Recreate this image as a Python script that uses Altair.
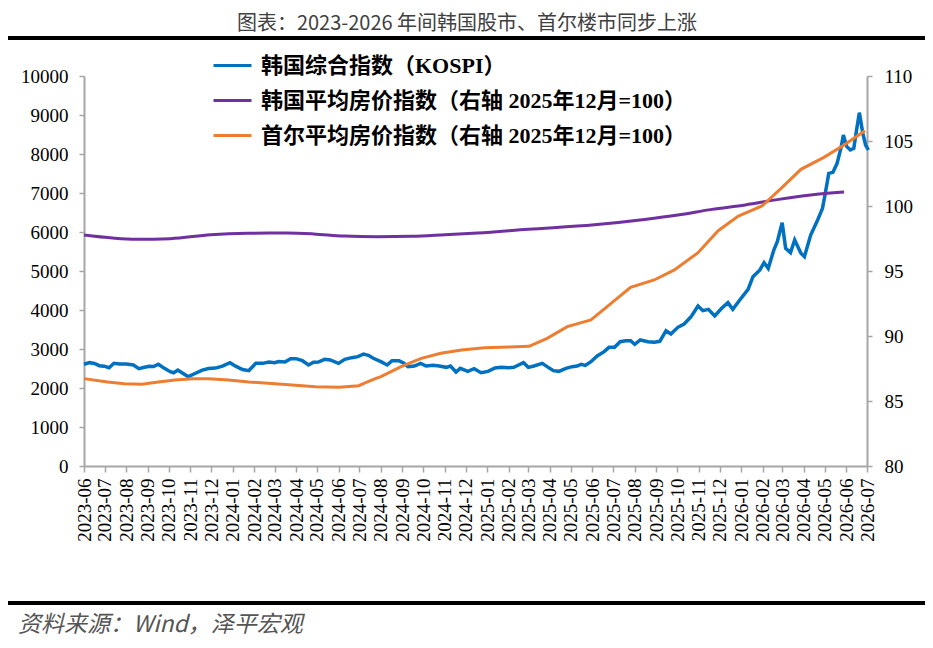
import altair as alt
import pandas as pd

TITLE = "图表：2023-2026 年间韩国股市、首尔楼市同步上涨"
SOURCE = "资料来源：Wind，泽平宏观"
SERIES = ["韩国综合指数（KOSPI）",
          "韩国平均房价指数（右轴 2025年12月=100）",
          "首尔平均房价指数（右轴 2025年12月=100）"]
COLORS = ["#0070C0", "#7030A0", "#ED7D31"]

# tick labels on the x axis, one per month
MONTHS = [f"{y}-{m:02d}" for y in (2023, 2024, 2025, 2026) for m in range(1, 13)]
MONTHS = MONTHS[MONTHS.index("2023-06"):MONTHS.index("2026-07") + 1]

kospi_dates = [
    "2023-06-01", "2023-06-09", "2023-06-16", "2023-06-23", "2023-06-30", "2023-07-07", "2023-07-14", "2023-07-22",
    "2023-08-01", "2023-08-11", "2023-08-19", "2023-08-27", "2023-09-03", "2023-09-09", "2023-09-16", "2023-09-24",
    "2023-10-03", "2023-10-08", "2023-10-14", "2023-10-21", "2023-10-29", "2023-11-06", "2023-11-18", "2023-11-27",
    "2023-12-07", "2023-12-17", "2023-12-28", "2024-01-05", "2024-01-15", "2024-01-24", "2024-02-03", "2024-02-13",
    "2024-02-22", "2024-03-01", "2024-03-07", "2024-03-16", "2024-03-24", "2024-04-01", "2024-04-10", "2024-04-19",
    "2024-04-26", "2024-05-03", "2024-05-12", "2024-05-20", "2024-06-01", "2024-06-10", "2024-06-20", "2024-06-29",
    "2024-07-07", "2024-07-14", "2024-07-21", "2024-08-01", "2024-08-10", "2024-08-17", "2024-08-27", "2024-09-03",
    "2024-09-09", "2024-09-18", "2024-09-27", "2024-10-05", "2024-10-15", "2024-10-24", "2024-11-03", "2024-11-09",
    "2024-11-17", "2024-11-23", "2024-12-04", "2024-12-13", "2024-12-23", "2025-01-02", "2025-01-12", "2025-01-21",
    "2025-02-01", "2025-02-08", "2025-02-15", "2025-02-22", "2025-03-01", "2025-03-09", "2025-03-21", "2025-03-28",
    "2025-04-06", "2025-04-14", "2025-04-24", "2025-05-03", "2025-05-10", "2025-05-16", "2025-05-22", "2025-05-30",
    "2025-06-08", "2025-06-18", "2025-06-25", "2025-07-03", "2025-07-11", "2025-07-19", "2025-07-26", "2025-08-01",
    "2025-08-09", "2025-08-20", "2025-08-29", "2025-09-06", "2025-09-15", "2025-09-22", "2025-10-02", "2025-10-11",
    "2025-10-21", "2025-10-31", "2025-11-07", "2025-11-15", "2025-11-24", "2025-12-04", "2025-12-13", "2025-12-20",
    "2025-12-30", "2026-01-11", "2026-01-18", "2026-01-28", "2026-02-03", "2026-02-09", "2026-02-17", "2026-02-22",
    "2026-03-01", "2026-03-06", "2026-03-13", "2026-03-19", "2026-03-28", "2026-04-02", "2026-04-11", "2026-04-21",
    "2026-04-28", "2026-05-02", "2026-05-07", "2026-05-13", "2026-05-19", "2026-05-25", "2026-05-28", "2026-06-02",
    "2026-06-07", "2026-06-12", "2026-06-16", "2026-06-20", "2026-06-25", "2026-06-29", "2026-07-03",
]
kospi_values = [
    2608, 2650, 2630, 2572, 2560, 2521, 2633, 2615,
    2615, 2590, 2496, 2530, 2556, 2550, 2610, 2510,
    2418, 2390, 2460, 2380, 2290, 2360, 2460, 2500,
    2510, 2560, 2650, 2560, 2475, 2444, 2632, 2632,
    2667, 2650, 2680, 2667, 2752, 2752, 2700, 2590,
    2660, 2667, 2735, 2718, 2632, 2735, 2778, 2803,
    2872, 2838, 2761, 2675, 2590, 2701, 2701, 2633,
    2547, 2564, 2633, 2564, 2581, 2564, 2530, 2564,
    2410, 2504, 2427, 2496, 2393, 2427, 2513, 2530,
    2521, 2530, 2590, 2650, 2530, 2564, 2633, 2547,
    2444, 2427, 2504, 2547, 2564, 2607, 2581, 2675,
    2821, 2932, 3043, 3043, 3188, 3214, 3214, 3120,
    3231, 3188, 3171, 3197, 3470, 3385, 3556, 3641,
    3829, 4103, 3983, 4017, 3846, 4043, 4188, 4017,
    4256, 4530, 4854, 5026, 5213, 5068, 5538, 5752,
    6239, 5581, 5470, 5795, 5453, 5367, 5923, 6308,
    6607, 6992, 7504, 7530, 7761, 8188, 8487, 8188,
    8103, 8145, 8615, 9060, 8530, 8231, 8103,
]

korea_dates = [
    "2023-06-01", "2023-08-16", "2023-10-03", "2023-11-30", "2024-01-22", "2024-03-19", "2024-04-26",
    "2024-06-09", "2024-07-27", "2024-09-14", "2024-11-01", "2024-12-18", "2025-03-01", "2025-06-04",
    "2025-08-15", "2025-10-02", "2025-11-20", "2026-01-07", "2026-02-24", "2026-04-11", "2026-05-29",
]
korea_values = [
    97.77, 97.44, 97.49, 97.79, 97.90, 97.92, 97.85,
    97.69, 97.64, 97.67, 97.79, 97.92, 98.21, 98.56,
    98.97, 99.31, 99.74, 100.08, 100.51, 100.85, 101.08,
]

seoul_dates = [
    "2023-06-01", "2023-07-05", "2023-07-29", "2023-08-23", "2023-09-16", "2023-10-10", "2023-11-04",
    "2023-11-27", "2023-12-26", "2024-01-24", "2024-03-02", "2024-03-26", "2024-04-29", "2024-06-02",
    "2024-06-30", "2024-07-10", "2024-07-24", "2024-08-01", "2024-08-30", "2024-09-28", "2024-10-26",
    "2024-11-25", "2024-12-28", "2025-02-01", "2025-03-02", "2025-03-28", "2025-04-26", "2025-05-30",
    "2025-06-28", "2025-07-26", "2025-08-29", "2025-09-27", "2025-10-31", "2025-11-29", "2025-12-28",
    "2026-01-31", "2026-03-01", "2026-03-28", "2026-04-30", "2026-05-29", "2026-06-28",
]
seoul_values = [
    86.72, 86.46, 86.33, 86.28, 86.46, 86.62, 86.72,
    86.72, 86.62, 86.46, 86.33, 86.23, 86.10, 86.05,
    86.18, 86.41, 86.72, 86.87, 87.64, 88.28, 88.67,
    88.92, 89.10, 89.15, 89.21, 89.82, 90.72, 91.23,
    92.51, 93.74, 94.31, 95.08, 96.41, 98.10, 99.23,
    100.00, 101.44, 102.82, 103.74, 104.69, 105.79,
]

kospi = pd.DataFrame({"date": pd.to_datetime(kospi_dates), "value": kospi_values, "series": SERIES[0]})
korea = pd.DataFrame({"date": pd.to_datetime(korea_dates), "value": korea_values, "series": SERIES[1]})
seoul = pd.DataFrame({"date": pd.to_datetime(seoul_dates), "value": seoul_values, "series": SERIES[2]})

LABEL_FONT = "Liberation Serif"
AXIS_GREY = "#a6a6a6"


def month(s):
    return alt.DateTime(year=int(s[:4]), month=int(s[5:7]), date=1)


x = alt.X("date:T",
          scale=alt.Scale(domain=[month(MONTHS[0]), month(MONTHS[-1])]),
          axis=alt.Axis(title=None, values=[month(m) for m in MONTHS], format="%Y-%m",
                        labelAngle=270, labelOverlap=False, labelPadding=6, tickSize=6))

color = alt.Color("series:N", scale=alt.Scale(domain=SERIES, range=COLORS),
                  legend=alt.Legend(title=None, orient="none", legendX=128, legendY=-31,
                                    symbolType="stroke", symbolSize=1444, symbolStrokeWidth=3,
                                    labelFont=LABEL_FONT + ", Noto Sans CJK SC", labelFontSize=22,
                                    labelFontWeight="bold", labelColor="black", labelOffset=8,
                                    labelLimit=0, rowPadding=3, padding=0))

left = alt.Chart(kospi).mark_line(strokeWidth=3.5).encode(
    x=x,
    y=alt.Y("value:Q", scale=alt.Scale(domain=[0, 10000]),
            axis=alt.Axis(title=None, orient="left", values=list(range(0, 10001, 1000)),
                          format="d", labelPadding=11)),
    color=color,
)

y_right = alt.Y("value:Q", scale=alt.Scale(domain=[80, 110]),
                axis=alt.Axis(title=None, orient="right", values=[80, 85, 90, 95, 100, 105, 110], labelPadding=12))
purple = alt.Chart(korea).mark_line(strokeWidth=3, interpolate="monotone").encode(x=x, y=y_right, color=color)
orange = alt.Chart(seoul).mark_line(strokeWidth=3).encode(x=x, y=y_right, color=color)
right = alt.layer(purple, orange)

# title, rules and source note around the plot
title = alt.Chart(pd.DataFrame({"label": [TITLE]})).mark_text(
    font="Noto Sans CJK SC", fontSize=20, color="#404040", align="center", baseline="middle"
).encode(x=alt.value(383), y=alt.value(-52), text="label:N")

source = alt.Chart(pd.DataFrame({"label": [SOURCE]})).mark_text(
    font="Noto Sans CJK SC", fontSize=23, fontStyle="italic", color="#555555", align="left", baseline="middle"
).encode(x=alt.value(-66), y=alt.value(549), text="label:N")

rule_top = alt.Chart(pd.DataFrame({"k": [0]})).mark_rule(color="black", strokeWidth=4).encode(
    x=alt.value(-76), x2=alt.value(841), y=alt.value(-38))
rule_bottom = alt.Chart(pd.DataFrame({"k": [0]})).mark_rule(color="black", strokeWidth=4).encode(
    x=alt.value(-76), x2=alt.value(841), y=alt.value(527))

chart = alt.layer(left, right, title, source, rule_top, rule_bottom).resolve_scale(
    y="independent"
).properties(
    width=783,
    height=390,
    autosize=alt.AutoSizeParams(type="none"),
    padding={"left": 76, "top": 68, "right": 58, "bottom": 174},
).configure_view(
    strokeWidth=0
).configure_axis(
    grid=False,
    domainColor=AXIS_GREY,
    domainWidth=2,
    tickColor=AXIS_GREY,
    tickWidth=1.5,
    tickSize=5,
    labelFont=LABEL_FONT,
    labelFontSize=19,
    labelColor="black",
)

chart.save("out.html", embed_options={"renderer": "svg", "actions": False})
